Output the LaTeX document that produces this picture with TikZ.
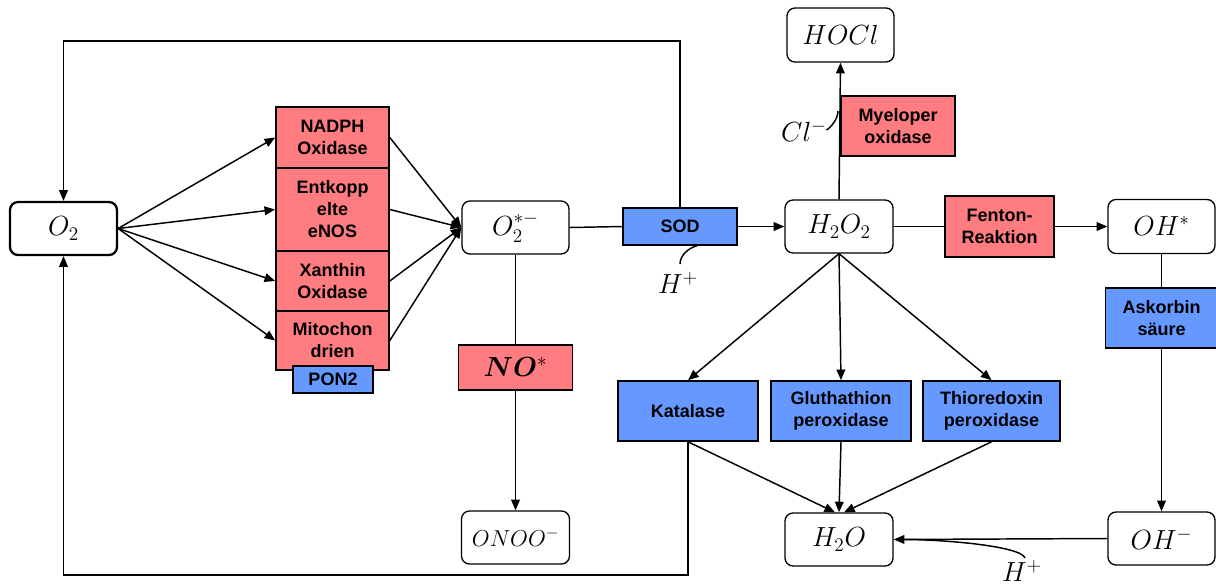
\documentclass[tikz,border=0pt]{standalone}
\usepackage{amsmath}
\usepackage{bm}
\usepackage[no-math]{fontspec}
\setmainfont{Liberation Sans}
\usetikzlibrary{arrows.meta,calc}
\definecolor{rd}{HTML}{FF7C80}
\definecolor{bl}{HTML}{6699FF}
\tikzset{
  sz/.style 2 args={minimum width=#1*0.75pt, minimum height=#2*0.75pt},
  mol/.style={draw, rounded corners=6pt, line width=1pt, fill=white, font=\fontsize{20}{24}\selectfont, inner sep=0pt},
  mtxt/.style={font=\fontsize{20}{24}\selectfont, inner sep=1pt},
  enz/.style={draw, line width=1.2pt, font=\bfseries\fontsize{13.5}{16.5}\selectfont, align=center, inner sep=0pt},
  redbox/.style={enz, fill=rd},
  bluebox/.style={enz, fill=bl},
  ln/.style={line width=1.1pt},
  arr/.style={line width=1.1pt, -{Triangle[length=8pt,width=6.5pt]}},
}
\begin{document}
\begin{tikzpicture}[x=0.75pt,y=-0.75pt]
\useasboundingbox (0,0) rectangle (1216,586);
% molecules
\node[mol, line width=1.7pt, sz={107}{53}] (o2) at (63.5,228.5) {$O_2$};
\node[mol, sz={107}{53}] (sup) at (515.5,227.5) {$O_2^{*-}$};
\node[mol, sz={108}{53}, font=\fontsize{17}{20}\selectfont] (onoo) at (515.5,537.5) {$ONOO^-$};
\node[mol, sz={108}{53}] (h2o2) at (839,226.5) {$H_2O_2$};
\node[mol, sz={107}{54}] (hocl) at (840.5,35) {$HOCl$};
\node[mol, sz={107}{54}] (ohs) at (1161.5,226.5) {$OH^*$};
\node[mol, sz={108}{53}] (h2o) at (839,539.5) {$H_2O$};
\node[mol, sz={107}{53}] (ohm) at (1161.5,538.5) {$OH^-$};
% enzymes
\node[redbox, sz={113}{61}] (nadph) at (332.5,137.5) {NADPH\\Oxidase};
\node[redbox, sz={113}{83}] (enos) at (332.5,209.5) {Entkopp\\elte\\eNOS};
\node[redbox, sz={113}{60}] (xan) at (332.5,281) {Xanthin\\Oxidase};
\node[redbox, sz={113}{59}] (mito) at (332.5,340.5) {Mitochon\\drien};
\node[bluebox, sz={80}{27}] (pon) at (333,379.5) {PON2};
\node[redbox, sz={114}{45}, font=\fontsize{20}{23}\selectfont] (no) at (515.5,367.5) {$\bm{NO}^{*}$};
\node[bluebox, sz={114}{37}] (sod) at (680,226.5) {SOD};
\node[redbox, sz={114}{60}] (mpo) at (898,126) {Myeloper\\oxidase};
\node[redbox, sz={109}{61}] (fenton) at (999.5,226.5) {Fenton-\\Reaktion};
\node[bluebox, sz={112}{60}] (asc) at (1161.5,318) {Askorbin\\säure};
\node[bluebox, sz={140}{60}] (kat) at (688,411) {Katalase};
\node[bluebox, sz={140}{60}] (glu) at (841,411) {Gluthathion\\peroxidase};
\node[bluebox, sz={137}{60}] (thio) at (991.5,411) {Thioredoxin\\peroxidase};
% small labels
\node[mtxt] (hp1) at (678,283) {$H^+$};
\node[mtxt] (cl) at (804,131) {$Cl^-$};
\node[mtxt] (hp2) at (1022,571) {$H^+$};
\coordinate (top) at (65,41);
\coordinate (bot) at (65,575);
\coordinate (hp1c) at (680,264);
\coordinate (clj) at (838,111);
\coordinate (hp2c) at (1025,558);
% connectors
\foreach \e in {nadph,enos,xan,mito}{
  \draw[arr] (o2.east) -- (\e.west);
  \draw[arr] (\e.east) -- (sup.west);
}
\draw[ln] (sup.east) -- (sod.west);
\draw[arr] (sod.east) -- (h2o2.west);
\draw[ln] (hp1c) .. controls +(0,-9) and +(-8,2) .. ($(sod.south)+(17,0)$);
\draw[arr] (sod.north) |- (o2.north |- top) -- (o2.north);
\draw[ln] (sup.south) -- (no.north);
\draw[arr] (no.south) -- (onoo.north);
\draw[arr] (h2o2.north) -- (hocl.south);
\draw[ln] ($(cl.east)+(-2,-1)$) .. controls +(4,-2) and +(0,8) .. (clj);
\draw[ln] (h2o2.east) -- (fenton.west);
\draw[arr] (fenton.east) -- (ohs.west);
\draw[ln] (ohs.south) -- (asc.north);
\draw[arr] (asc.south) -- (ohm.north);
\draw[arr] (ohm.west) -- (h2o.east);
\draw[ln] (hp2c) .. controls +(-4,-12) and +(40,0) .. ($(h2o.east)+(10,0)$);
\draw[arr] (h2o2.south) -- (kat.north);
\draw[arr] (h2o2.south) -- (glu.north);
\draw[arr] (h2o2.south) -- (thio.north);
\draw[arr] (kat.south) -- ($(h2o.north)+(-4,0)$);
\draw[arr] (glu.south) -- (h2o.north);
\draw[arr] (thio.south) -- ($(h2o.north)+(5,0)$);
\draw[arr] (kat.south) |- (o2.south |- bot) -- (o2.south);
\end{tikzpicture}
\end{document}
